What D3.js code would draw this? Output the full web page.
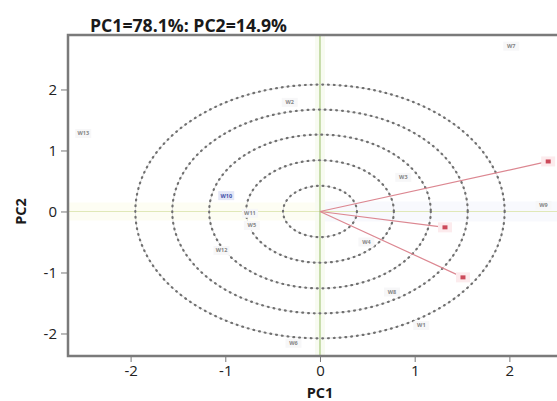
<!DOCTYPE html>
<html>
<head>
<meta charset="utf-8">
<script src="https://cdn.jsdelivr.net/npm/d3@7"></script>
<style>
  html, body { margin: 0; padding: 0; background: #fff; }
  svg { display: block; }
</style>
</head>
<body>
<svg id="chart" width="557" height="401"></svg>
<script>
// PCA biplot: PC1 vs PC2 with confidence ellipses and loading vectors
const title = "PC1=78.1%: PC2=14.9%";
const xTicks = [-2, -1, 0, 1, 2];
const yTicks = [-2, -1, 0, 1, 2];

// Ellipse levels (semi-axes along PC1 and PC2)
const ellipseRx = [0.39, 0.78, 1.17, 1.56, 1.95];
const ellipseRy = [0.42, 0.84, 1.26, 1.67, 2.08];

// Sample scores
const sampleNames = ["W7", "W13", "W2", "W10", "W11", "W5", "W12", "W6", "W3", "W9", "W4", "W8", "W1"];
const sampleX = [2.02, -2.5, -0.32, -0.99, -0.74, -0.72, -1.04, -0.28, 0.88, 2.36, 0.49, 0.76, 1.07];
const sampleY = [2.71, 1.28, 1.79, 0.26, -0.03, -0.23, -0.64, -2.16, 0.56, 0.10, -0.50, -1.32, -1.87];
const sampleHighlight = [false, false, false, true, false, false, false, false, false, false, false, false, false];

// Loading vectors
const loadingNames = ["V1", "V2", "V3"];
const loadingX = [2.41, 1.32, 1.51];
const loadingY = [0.82, -0.26, -1.08];

const svg = d3.select("#chart");
const plot = { left: 68, top: 35, right: 600, bottom: 356 };

const x = d3.scaleLinear().domain([-2.661, 2.957]).range([plot.left, plot.right]);
const y = d3.scaleLinear().domain([-2.369, 2.893]).range([plot.bottom, plot.top]);

const font = "'Open Sans', 'DejaVu Sans', sans-serif";

svg.append("defs").append("clipPath").attr("id", "clip")
  .append("rect").attr("x", plot.left).attr("y", plot.top)
  .attr("width", plot.right - plot.left).attr("height", plot.bottom - plot.top);

const g = svg.append("g").attr("clip-path", "url(#clip)");

// Faint reference bands and lines through the origin
g.append("rect").attr("x", plot.left).attr("y", y(0) - 9)
  .attr("width", x(0) - plot.left).attr("height", 18)
  .attr("fill", "#fdfdf3");
g.append("rect").attr("x", x(0)).attr("y", y(0) - 10)
  .attr("width", plot.right - x(0)).attr("height", 20)
  .attr("fill", "#f8f9fd");
g.append("rect").attr("x", x(0) - 5).attr("y", plot.top)
  .attr("width", 10).attr("height", plot.bottom - plot.top)
  .attr("fill", "#f8fbf1");
g.append("line").attr("x1", plot.left).attr("x2", plot.right)
  .attr("y1", y(0)).attr("y2", y(0))
  .attr("stroke", "#e0e8b8").attr("stroke-width", 1.2);
g.append("line").attr("x1", x(0)).attr("x2", x(0))
  .attr("y1", plot.top).attr("y2", plot.bottom)
  .attr("stroke", "#a8c87c").attr("stroke-width", 1.2);

// Dotted ellipses
const ellipses = g.append("g");
ellipseRx.forEach((rx, i) => {
  const ry = ellipseRy[i];
  const cx = x(0), cy = y(0);
  const ex = x(rx) - x(0), ey = y(0) - y(ry);
  ellipses.append("ellipse")
    .attr("cx", cx).attr("cy", cy).attr("rx", ex).attr("ry", ey)
    .attr("fill", "none").attr("stroke", "#d2d2d2").attr("stroke-width", 0.7);
  ellipses.append("ellipse")
    .attr("cx", cx).attr("cy", cy).attr("rx", ex).attr("ry", ey)
    .attr("fill", "none").attr("stroke", "#707070").attr("stroke-width", 2.2)
    .attr("stroke-linecap", "round").attr("stroke-dasharray", "0.8,5");
});

// Loading vectors
const loads = loadingX.map((v, i) => ({ name: loadingNames[i], x: v, y: loadingY[i] }));
g.selectAll("line.load").data(loads).join("line").attr("class", "load")
  .attr("x1", x(0)).attr("y1", y(0))
  .attr("x2", d => x(d.x)).attr("y2", d => y(d.y))
  .attr("stroke", "#dc8791").attr("stroke-width", 1.2);
g.selectAll("rect.halo").data(loads).join("rect").attr("class", "halo")
  .attr("x", d => x(d.x) - 7).attr("y", d => y(d.y) - 5)
  .attr("width", 14).attr("height", 10).attr("fill", "#fcebed");
g.selectAll("rect.mark").data(loads).join("rect").attr("class", "mark")
  .attr("x", d => x(d.x) - 2.5).attr("y", d => y(d.y) - 2)
  .attr("width", 5).attr("height", 4).attr("fill", "#cc4a5a");

// Sample labels
const samples = sampleNames.map((n, i) => ({ name: n, x: sampleX[i], y: sampleY[i], hi: sampleHighlight[i] }));
const sg = g.selectAll("g.sample").data(samples).join("g").attr("class", "sample")
  .attr("transform", d => `translate(${x(d.x)},${y(d.y)})`);
sg.append("rect").attr("x", -8).attr("y", -4.5).attr("width", 16).attr("height", 9)
  .attr("fill", d => d.hi ? "#e4e7f7" : "#f7f7f8");
sg.append("text").text(d => d.name)
  .attr("text-anchor", "middle").attr("dy", "0.35em")
  .attr("font-family", font).attr("font-size", 5.5).attr("font-weight", "bold")
  .attr("fill", d => d.hi ? "#4050a8" : "#858585");

// Frame
svg.append("path")
  .attr("d", `M${plot.right},${plot.top}H${plot.left}V${plot.bottom}H${plot.right}`)
  .attr("fill", "none").attr("stroke", "#7a7a7a").attr("stroke-width", 2.5);

// Axes
const xAxis = svg.append("g").attr("transform", `translate(0,${plot.bottom + 1})`)
  .call(d3.axisBottom(x).tickValues(xTicks).tickSize(5).tickPadding(3)
    .tickFormat(d => d < 0 ? "-" + Math.abs(d) : d));
xAxis.select(".domain").remove();
xAxis.selectAll("line").attr("stroke", "#777");
xAxis.selectAll("text").attr("font-family", font).attr("font-size", 15).attr("fill", "#222");

const yAxis = svg.append("g").attr("transform", `translate(${plot.left - 1},0)`)
  .call(d3.axisLeft(y).tickValues(yTicks).tickSize(6).tickPadding(4)
    .tickFormat(d => d < 0 ? "-" + Math.abs(d) : d));
yAxis.select(".domain").remove();
yAxis.selectAll("line").attr("stroke", "#777");
yAxis.selectAll("text").attr("font-family", font).attr("font-size", 15).attr("fill", "#222");

// Titles
svg.append("text").text(title)
  .attr("x", 90).attr("y", 32)
  .attr("textLength", 197).attr("lengthAdjust", "spacingAndGlyphs")
  .attr("font-family", font).attr("font-size", 18).attr("font-weight", "bold").attr("fill", "#1a1a1a");
svg.append("text").text("PC1")
  .attr("x", x(0)).attr("y", 398).attr("text-anchor", "middle")
  .attr("font-family", font).attr("font-size", 14.5).attr("font-weight", "bold").attr("fill", "#1a1a1a");
svg.append("text").text("PC2")
  .attr("transform", `translate(26,${y(0)}) rotate(-90)`).attr("text-anchor", "middle")
  .attr("font-family", font).attr("font-size", 14.5).attr("font-weight", "bold").attr("fill", "#1a1a1a");
</script>
</body>
</html>
